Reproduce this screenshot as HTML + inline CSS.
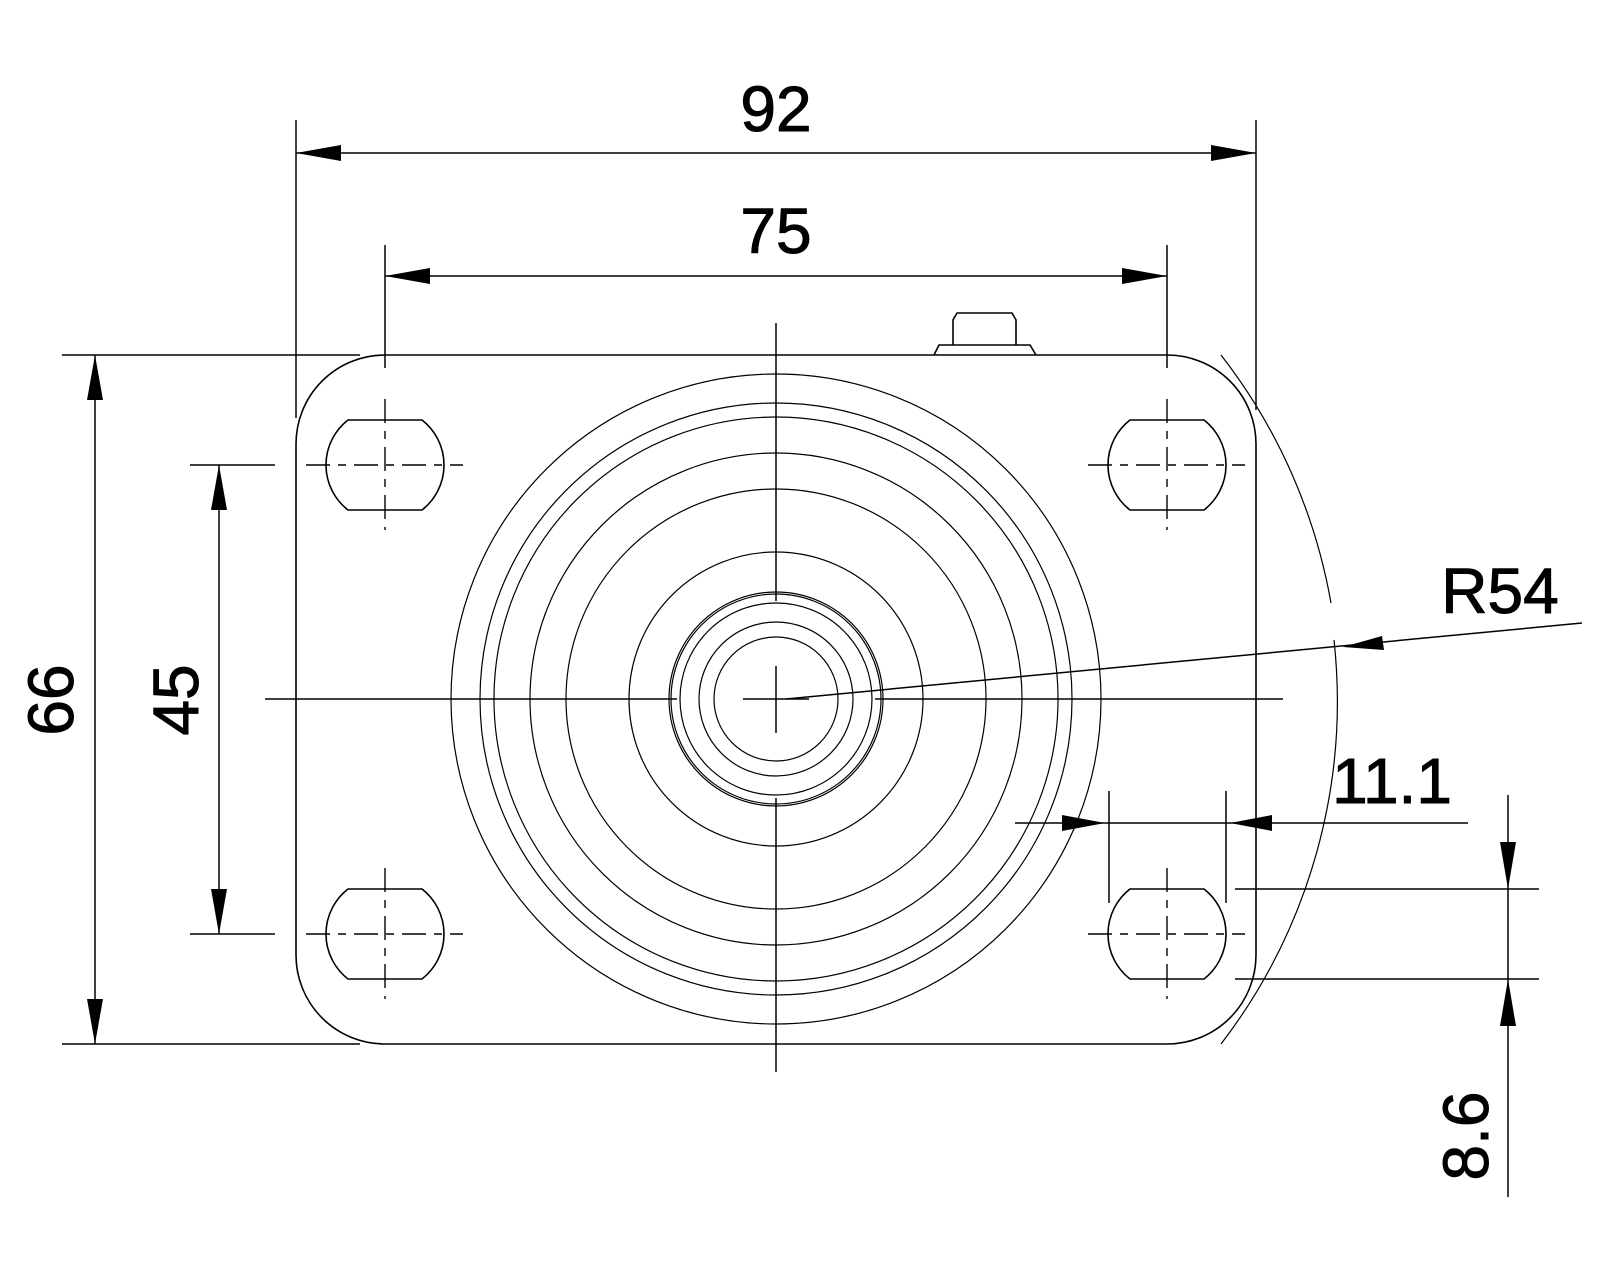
<!DOCTYPE html>
<html><head><style>html,body{margin:0;padding:0;background:#fff}svg{display:block}</style></head>
<body>
<svg width="1600" height="1280" viewBox="0 0 1600 1280" xmlns="http://www.w3.org/2000/svg">
<g fill="none" stroke="#000" stroke-width="1.6">
<path d="M385,355 H1167 A89,89 0 0 1 1256,444 V955 A89,89 0 0 1 1167,1044 H385 A89,89 0 0 1 296,955 V444 A89,89 0 0 1 385,355 Z"/>
<path d="M934,355 L939,345 H1030 L1036,355 M953,345 V320 L957,313 H1012 L1016,320 V345"/>
<path transform="translate(385,465)" d="M-37,-45 H37 A57,57 0 0 1 37,45 H-37 A57,57 0 0 1 -37,-45 Z"/>
<path transform="translate(1167,465)" d="M-37,-45 H37 A57,57 0 0 1 37,45 H-37 A57,57 0 0 1 -37,-45 Z"/>
<path transform="translate(385,934)" d="M-37,-45 H37 A57,57 0 0 1 37,45 H-37 A57,57 0 0 1 -37,-45 Z"/>
<path transform="translate(1167,934)" d="M-37,-45 H37 A57,57 0 0 1 37,45 H-37 A57,57 0 0 1 -37,-45 Z"/>
</g>
<g stroke="#000" stroke-width="1.4" stroke-dasharray="24,8,8,8">
<line x1="306" y1="465" x2="463" y2="465"/><line x1="385" y1="399" x2="385" y2="530"/>
<line x1="1088" y1="465" x2="1245" y2="465"/><line x1="1167" y1="399" x2="1167" y2="530"/>
<line x1="306" y1="934" x2="463" y2="934"/><line x1="385" y1="868" x2="385" y2="999"/>
<line x1="1088" y1="934" x2="1245" y2="934"/><line x1="1167" y1="868" x2="1167" y2="999"/>
</g>
<g fill="none" stroke="#000" stroke-width="1.2">
<circle cx="776" cy="699" r="325"/>
<circle cx="776" cy="699" r="296"/>
<circle cx="776" cy="699" r="282"/>
<circle cx="776" cy="699" r="246"/>
<circle cx="776" cy="699" r="210"/>
<circle cx="776" cy="699" r="147"/>
<circle cx="776" cy="699" r="107"/>
<circle cx="776" cy="699" r="105"/>
<circle cx="776" cy="699" r="96"/>
<circle cx="776" cy="699" r="77"/>
<circle cx="776" cy="699" r="62"/>
<path d="M1221,355 A563,563 0 0 1 1331,603"/>
<path d="M1334,640 A563,563 0 0 1 1221,1044"/>
</g>
<g stroke="#000" stroke-width="1.5">
<line x1="776" y1="323" x2="776" y2="601"/><line x1="776" y1="666" x2="776" y2="733"/><line x1="776" y1="798" x2="776" y2="1072"/>
<line x1="265" y1="699" x2="677" y2="699"/><line x1="743" y1="699" x2="809" y2="699"/><line x1="875" y1="699" x2="1283" y2="699"/>
<line x1="296" y1="120" x2="296" y2="418"/><line x1="1256" y1="120" x2="1256" y2="410"/>
<line x1="385" y1="245" x2="385" y2="368"/><line x1="1167" y1="245" x2="1167" y2="368"/>
<line x1="62" y1="355" x2="360" y2="355"/><line x1="62" y1="1044" x2="360" y2="1044"/>
<line x1="190" y1="465" x2="275" y2="465"/><line x1="190" y1="934" x2="275" y2="934"/>
<line x1="1109" y1="791" x2="1109" y2="903"/><line x1="1226" y1="791" x2="1226" y2="903"/>
<line x1="1235" y1="889" x2="1539" y2="889"/><line x1="1235" y1="979" x2="1539" y2="979"/>
<line x1="296" y1="153" x2="1256" y2="153"/>
<line x1="385" y1="276" x2="1167" y2="276"/>
<line x1="95" y1="355" x2="95" y2="1044"/>
<line x1="219" y1="465" x2="219" y2="934"/>
<line x1="1015" y1="823" x2="1468" y2="823"/>
<line x1="1508" y1="795" x2="1508" y2="1197"/>
<line x1="786" y1="699" x2="1582" y2="623"/>
</g>
<g fill="#000">
<polygon points="296,153 341,145 341,161"/><polygon points="1256,153 1211,145 1211,161"/>
<polygon points="385,276 430,268 430,284"/><polygon points="1167,276 1122,268 1122,284"/>
<polygon points="95,355 87,400 103,400"/><polygon points="95,1044 87,999 103,999"/>
<polygon points="219,465 211,510 227,510"/><polygon points="219,934 211,889 227,889"/>
<polygon points="1105,823 1062,815 1062,831"/><polygon points="1230,823 1272,815 1272,831"/>
<polygon points="1508,889 1500,842 1516,842"/><polygon points="1508,979 1500,1026 1516,1026"/>
<polygon points="1343,647 1382,636 1384,650"/>
</g>
<g font-family="'Liberation Sans', sans-serif" font-size="64" fill="#000" stroke="#000" stroke-width="1" text-anchor="middle">
<text x="776" y="131">92</text>
<text x="776" y="253">75</text>
<text x="1500" y="613">R54</text>
<text x="1392" y="803">11.1</text>
<text transform="translate(73,700) rotate(-90)">66</text>
<text transform="translate(198,700) rotate(-90)">45</text>
<text transform="translate(1488,1136) rotate(-90)">8.6</text>
</g>
</svg>
</body></html>
